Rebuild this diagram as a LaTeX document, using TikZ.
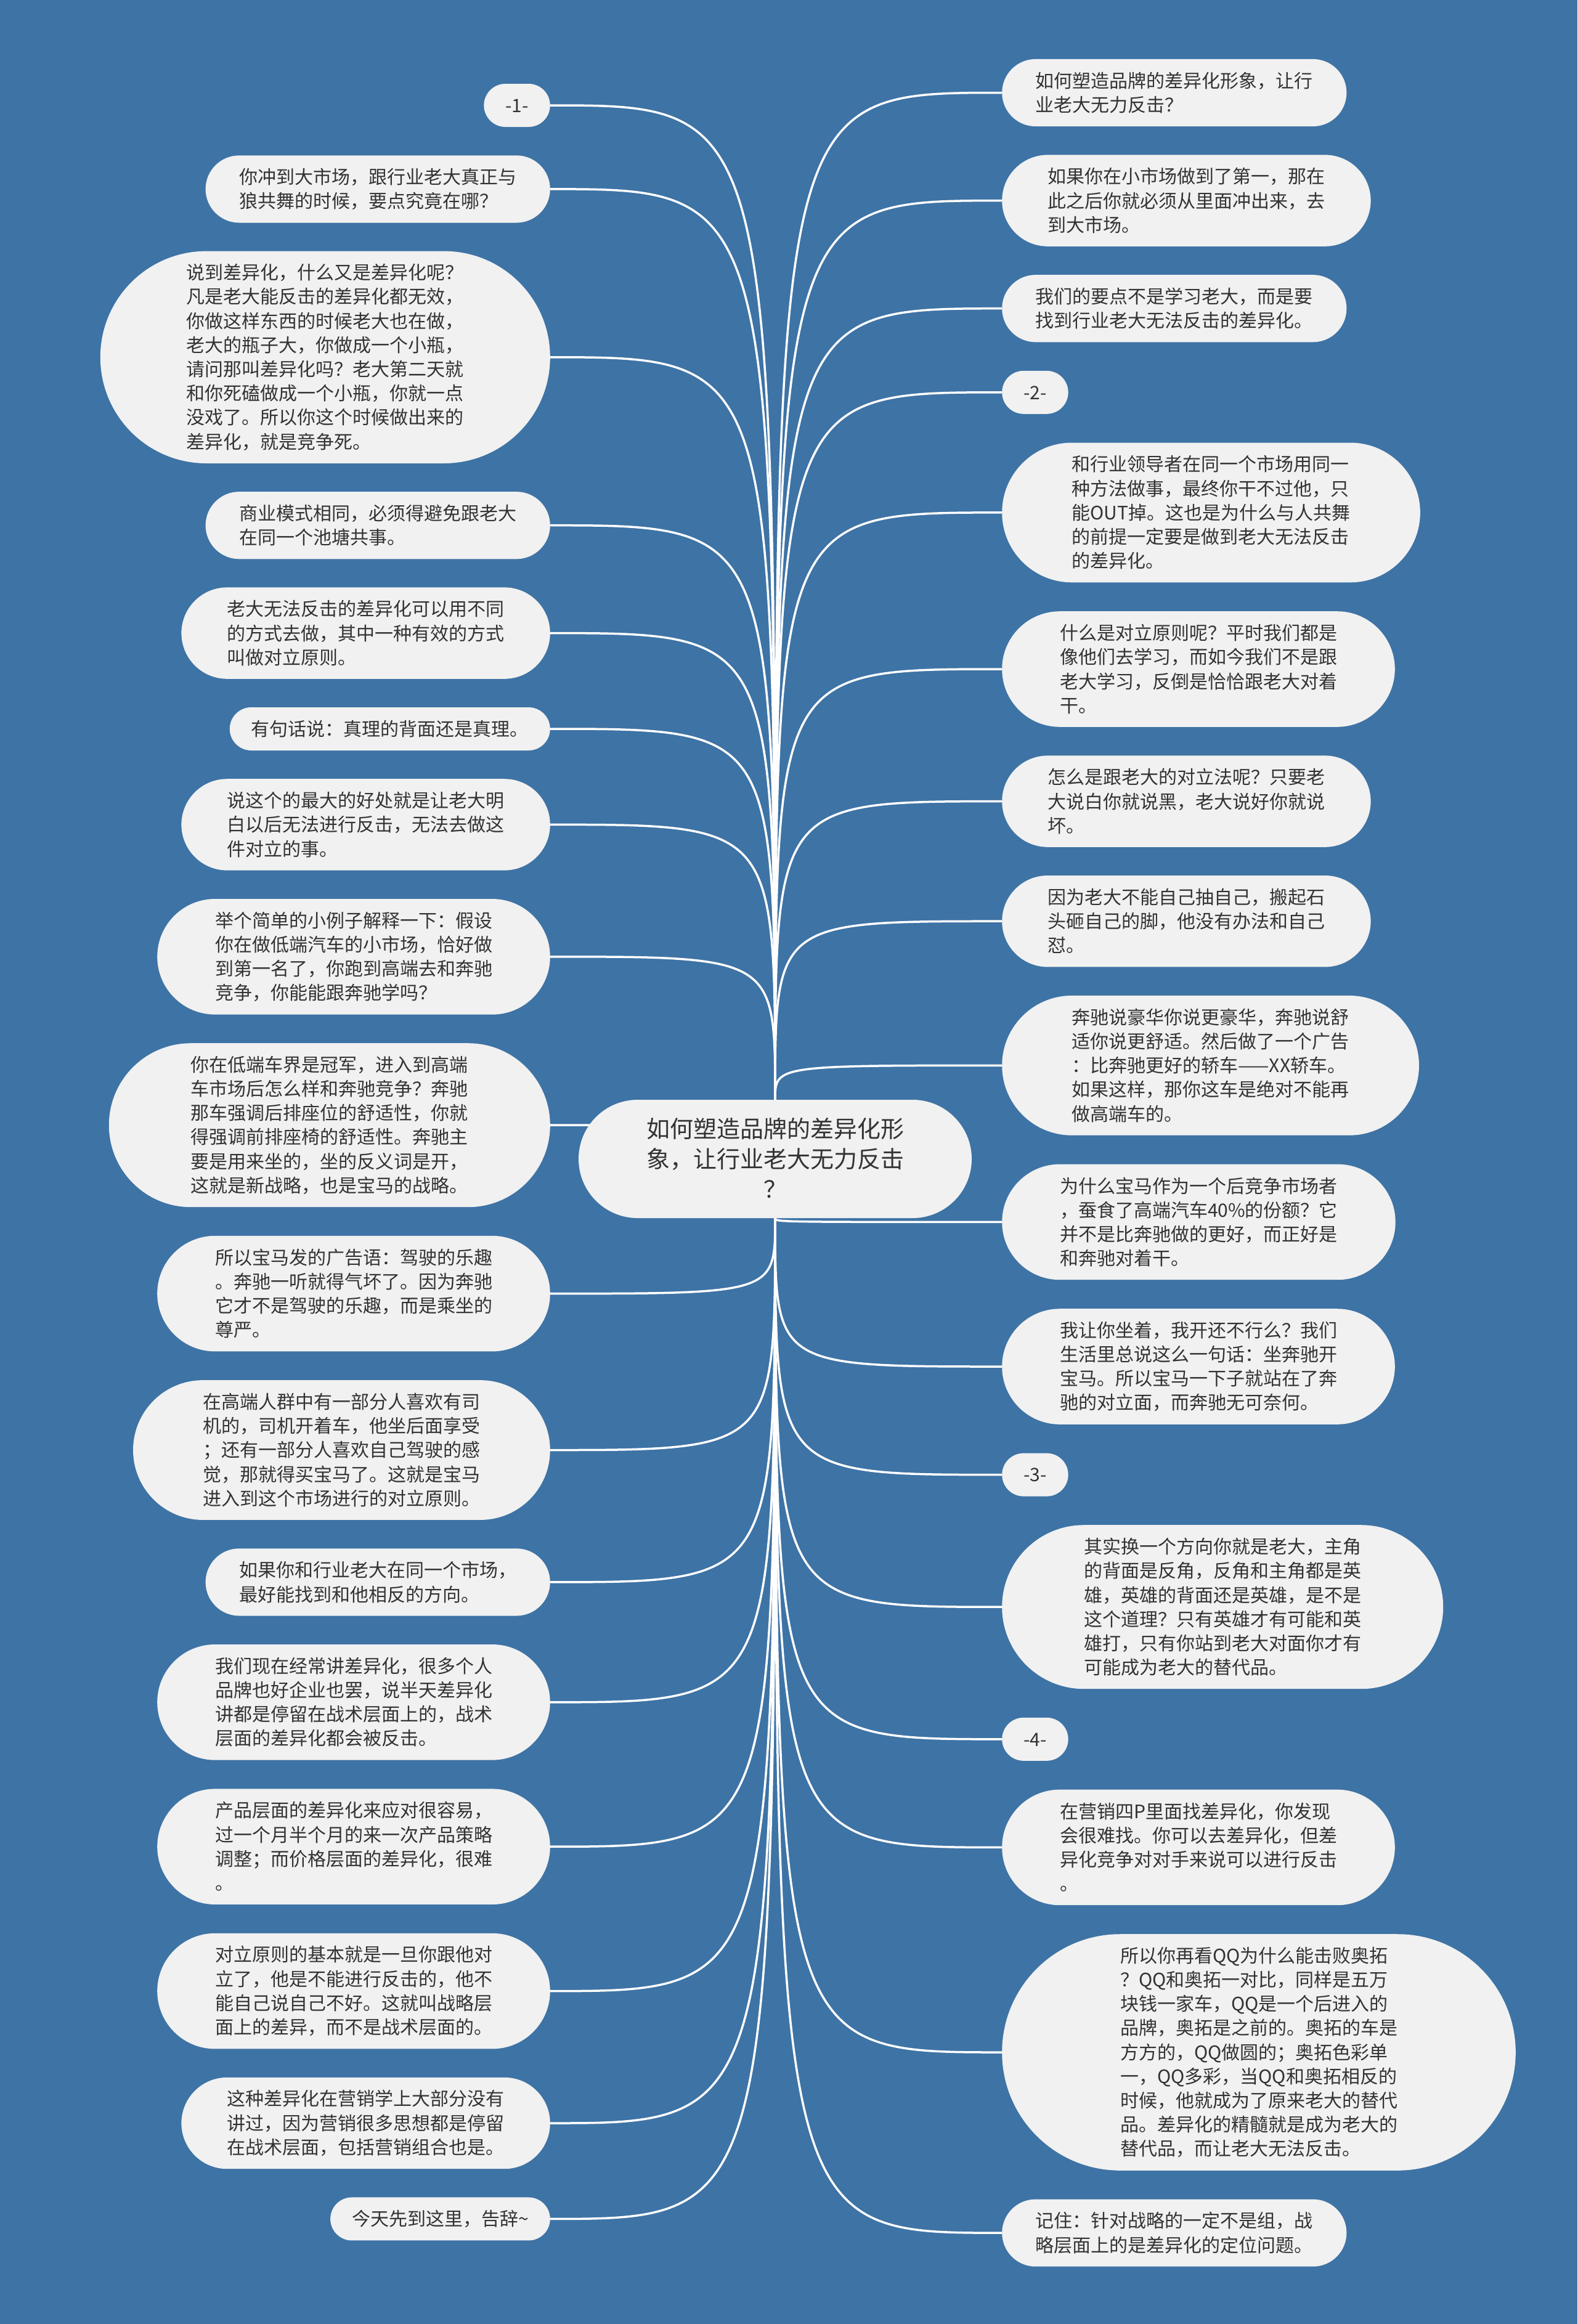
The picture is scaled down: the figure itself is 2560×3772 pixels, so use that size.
\documentclass[tikz,border=0pt]{standalone}
\usepackage{fontspec}
\newfontfamily\cjk{Noto Sans CJK SC}
\definecolor{MapBlue}{RGB}{62,115,165}
\definecolor{LeafFill}{RGB}{241,241,241}
\definecolor{LeafText}{RGB}{51,51,51}
\pgfdeclarelayer{bg}
\pgfsetlayers{bg,main}

\begin{document}
\begin{tikzpicture}[x=1pt,y=-1pt,
  leaf/.style={rectangle,fill=LeafFill,text=LeafText,align=left,inner ysep=8pt,
    minimum height={(#1-1)*39.2+70},inner xsep={(#1-1)*19.6+35},rounded corners={(#1-1)*19.6+35},
    font=\cjk\fontsize{30}{39.2}\selectfont,execute at begin node={\vphantom{你}}},
  leafL/.style={leaf=#1,anchor=east},
  leafR/.style={leaf=#1,anchor=west},
  link/.style={draw=white,line width=3.5pt}]
\useasboundingbox (0,0) rectangle (2560,3772);
% centre
\node[leaf=1,align=center,minimum height=192,inner xsep=110pt,rounded corners=96pt,font=\cjk\fontsize{38}{49}\selectfont] (root) at (1258,1881)
  {如何塑造品牌的差异化形\\象，让行业老大无力反击\\？};
% left side
\node[leafL=1] (l1) at (893,171) {-1-};
\node[leafL=2] (l2) at (893,306.9) {你冲到大市场，跟行业老大真正与\\狼共舞的时候，要点究竟在哪？};
\node[leafL=8,inner xsep=140pt] (l3) at (893,579.8) {说到差异化，什么又是差异化呢？\\凡是老大能反击的差异化都无效，\\你做这样东西的时候老大也在做，\\老大的瓶子大，你做成一个小瓶，\\请问那叫差异化吗？老大第二天就\\和你死磕做成一个小瓶，你就一点\\没戏了。所以你这个时候做出来的\\差异化，就是竞争死。};
\node[leafL=2] (l4) at (893,852.7) {商业模式相同，必须得避免跟老大\\在同一个池塘共事。};
\node[leafL=3] (l5) at (893,1027.6) {老大无法反击的差异化可以用不同\\的方式去做，其中一种有效的方式\\叫做对立原则。};
\node[leafL=1] (l6) at (893,1183) {有句话说：真理的背面还是真理。};
\node[leafL=3] (l7) at (893,1338.4) {说这个的最大的好处就是让老大明\\白以后无法进行反击，无法去做这\\件对立的事。};
\node[leafL=4] (l8) at (893,1552.8) {举个简单的小例子解释一下：假设\\你在做低端汽车的小市场，恰好做\\到第一名了，你跑到高端去和奔驰\\竞争，你能能跟奔驰学吗？};
\node[leafL=6] (l9) at (893,1826.2) {你在低端车界是冠军，进入到高端\\车市场后怎么样和奔驰竞争？奔驰\\那车强调后排座位的舒适性，你就\\得强调前排座椅的舒适性。奔驰主\\要是用来坐的，坐的反义词是开，\\这就是新战略，也是宝马的战略。};
\node[leafL=4] (l10) at (893,2099.6) {所以宝马发的广告语：驾驶的乐趣\\。奔驰一听就得气坏了。因为奔驰\\它才不是驾驶的乐趣，而是乘坐的\\尊严。};
\node[leafL=5] (l11) at (893,2353.5) {在高端人群中有一部分人喜欢有司\\机的，司机开着车，他坐后面享受\\；还有一部分人喜欢自己驾驶的感\\觉，那就得买宝马了。这就是宝马\\进入到这个市场进行的对立原则。};
\node[leafL=2] (l12) at (893,2567.9) {如果你和行业老大在同一个市场，\\最好能找到和他相反的方向。};
\node[leafL=4] (l13) at (893,2762.8) {我们现在经常讲差异化，很多个人\\品牌也好企业也罢，说半天差异化\\讲都是停留在战术层面上的，战术\\层面的差异化都会被反击。};
\node[leafL=4] (l14) at (893,2997.2) {产品层面的差异化来应对很容易，\\过一个月半个月的来一次产品策略\\调整；而价格层面的差异化，很难\\。};
\node[leafL=4] (l15) at (893,3231.6) {对立原则的基本就是一旦你跟他对\\立了，他是不能进行反击的，他不\\能自己说自己不好。这就叫战略层\\面上的差异，而不是战术层面的。};
\node[leafL=3] (l16) at (893,3446) {这种差异化在营销学上大部分没有\\讲过，因为营销很多思想都是停留\\在战术层面，包括营销组合也是。};
\node[leafL=1] (l17) at (893,3601.4) {今天先到这里，告辞\textasciitilde};
% right side
\node[leafR=2] (r1) at (1626,150.5) {如何塑造品牌的差异化形象，让行\\业老大无力反击？};
\node[leafR=3] (r2) at (1626,325.6) {如果你在小市场做到了第一，那在\\此之后你就必须从里面冲出来，去\\到大市场。};
\node[leafR=2] (r3) at (1626,500.7) {我们的要点不是学习老大，而是要\\找到行业老大无法反击的差异化。};
\node[leafR=1] (r4) at (1626,636.8) {-2-};
\node[leafR=5] (r5) at (1626,831.9) {和行业领导者在同一个市场用同一\\种方法做事，最终你干不过他，只\\能OUT掉。这也是为什么与人共舞\\的前提一定要是做到老大无法反击\\的差异化。};
\node[leafR=4] (r6) at (1626,1086) {什么是对立原则呢？平时我们都是\\像他们去学习，而如今我们不是跟\\老大学习，反倒是恰恰跟老大对着\\干。};
\node[leafR=3] (r7) at (1626,1300.6) {怎么是跟老大的对立法呢？只要老\\大说白你就说黑，老大说好你就说\\坏。};
\node[leafR=3] (r8) at (1626,1495.2) {因为老大不能自己抽自己，搬起石\\头砸自己的脚，他没有办法和自己\\怼。};
\node[leafR=5] (r9) at (1626,1729.3) {奔驰说豪华你说更豪华，奔驰说舒\\适你说更舒适。然后做了一个广告\\：比奔驰更好的轿车——XX轿车。\\如果这样，那你这车是绝对不能再\\做高端车的。};
\node[leafR=4] (r10) at (1626,1983.4) {为什么宝马作为一个后竞争市场者\\，蚕食了高端汽车40\%的份额？它\\并不是比奔驰做的更好，而正好是\\和奔驰对着干。};
\node[leafR=4] (r11) at (1626,2218) {我让你坐着，我开还不行么？我们\\生活里总说这么一句话：坐奔驰开\\宝马。所以宝马一下子就站在了奔\\驰的对立面，而奔驰无可奈何。};
\node[leafR=1] (r12) at (1626,2393.6) {-3-};
\node[leafR=6] (r13) at (1626,2608.2) {其实换一个方向你就是老大，主角\\的背面是反角，反角和主角都是英\\雄，英雄的背面还是英雄，是不是\\这个道理？只有英雄才有可能和英\\雄打，只有你站到老大对面你才有\\可能成为老大的替代品。};
\node[leafR=1] (r14) at (1626,2822.8) {-4-};
\node[leafR=4] (r15) at (1626,2998.4) {在营销四P里面找差异化，你发现\\会很难找。你可以去差异化，但差\\异化竞争对对手来说可以进行反击\\。};
\node[leafR=9] (r16) at (1626,3331) {所以你再看QQ为什么能击败奥拓\\？QQ和奥拓一对比，同样是五万\\块钱一家车，QQ是一个后进入的\\品牌，奥拓是之前的。奥拓的车是\\方方的，QQ做圆的；奥拓色彩单\\一，QQ多彩，当QQ和奥拓相反的\\时候，他就成为了原来老大的替代\\品。差异化的精髓就是成为老大的\\替代品，而让老大无法反击。};
\node[leafR=2] (r17) at (1626,3624.1) {记住：针对战略的一定不是组，战\\略层面上的是差异化的定位问题。};
% links behind the nodes
\begin{pgfonlayer}{bg}
\fill[MapBlue] (0,0) rectangle (2560,3772);
\foreach \n in {l1,l2,l3,l4,l5,l6,l7,l8,l9} {
  \draw[link] (root.north) .. controls (root.north |- \n.east) .. (\n.east);
}
\foreach \n in {l10,l11,l12,l13,l14,l15,l16,l17} {
  \draw[link] (root.south) .. controls (root.south |- \n.east) .. (\n.east);
}
\foreach \n in {r1,r2,r3,r4,r5,r6,r7,r8,r9} {
  \draw[link] (root.north) .. controls (root.north |- \n.west) .. (\n.west);
}
\foreach \n in {r10,r11,r12,r13,r14,r15,r16,r17} {
  \draw[link] (root.south) .. controls (root.south |- \n.west) .. (\n.west);
}
\end{pgfonlayer}
\end{tikzpicture}
\end{document}
